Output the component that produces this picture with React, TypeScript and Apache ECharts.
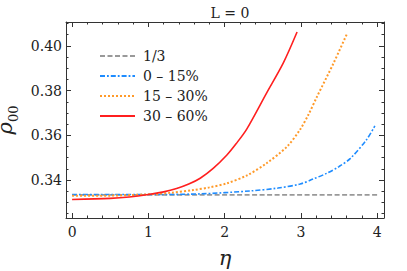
import React, { useEffect, useRef } from "react";
import * as echarts from "echarts";

const seriesNames = ["1/3", "0 – 15%", "15 – 30%", "30 – 60%"];

const etaGray = [0, 4];
const rhoGray = [1 / 3, 1 / 3];

const etaBlue = [0, 0.5, 1.0, 1.68, 2.33, 2.7, 2.99, 3.15, 3.34, 3.5, 3.65, 3.86, 3.97];
const rhoBlue = [0.3335, 0.3335, 0.3335, 0.3338, 0.3351, 0.3364, 0.3382, 0.3403, 0.343, 0.346, 0.3497, 0.358, 0.3642];

const etaOrange = [0, 0.5, 1.0, 1.3, 1.59, 1.8, 2.03, 2.3, 2.55, 2.82, 2.99, 3.1, 3.21, 3.43, 3.6];
const rhoOrange = [0.3329, 0.333, 0.3336, 0.3343, 0.3355, 0.3367, 0.3385, 0.3422, 0.3475, 0.355, 0.3626, 0.3693, 0.3772, 0.3924, 0.4051];

const etaRed = [0, 0.5, 0.75, 1.0, 1.2, 1.37, 1.53, 1.68, 1.85, 2.03, 2.15, 2.29, 2.55, 2.77, 2.95];
const rhoRed = [0.3313, 0.3318, 0.3324, 0.3335, 0.3347, 0.3362, 0.3382, 0.3408, 0.3452, 0.3512, 0.3562, 0.3628, 0.3789, 0.3924, 0.4062];

const xMajor = [0, 1, 2, 3, 4];
const xMinor = [0.2, 0.4, 0.6, 0.8, 1.2, 1.4, 1.6, 1.8, 2.2, 2.4, 2.6, 2.8, 3.2, 3.4, 3.6, 3.8];
const yMajor = [0.34, 0.36, 0.38, 0.4];
const yMinor = [0.325, 0.33, 0.335, 0.345, 0.35, 0.355, 0.365, 0.37, 0.375, 0.385, 0.39, 0.395, 0.405, 0.41];

const X_MIN = -0.08;
const X_MAX = 4.09;
const Y_MIN = 0.323;
const Y_MAX = 0.4107;

const FONT = "DejaVu Serif";
const FRAME = "#333";
const TEXT = "#222";

function pairs(xs: number[], ys: number[]) {
  return xs.map((x, i) => [x, ys[i]]);
}

function tickAxis(
  kind: "x" | "y",
  position: string,
  values: number[],
  len: number,
  showLine: boolean
) {
  const min = kind === "x" ? X_MIN : Y_MIN;
  const max = kind === "x" ? X_MAX : Y_MAX;
  return {
    type: "value",
    position,
    min,
    max,
    axisLine: { show: showLine, onZero: false, lineStyle: { color: FRAME, width: 1 } },
    axisTick: {
      show: true,
      inside: true,
      length: len,
      customValues: values,
      lineStyle: { color: FRAME, width: 1 },
    },
    axisLabel: { show: false },
    splitLine: { show: false },
  };
}

export default function App() {
  const ref = useRef<HTMLDivElement>(null);
  useEffect(() => {
    if (!ref.current) return;
    const chart = echarts.init(ref.current, undefined, { renderer: "svg" });
    const option: any = {
      animation: false,
      backgroundColor: "#fff",
      textStyle: { fontFamily: FONT },
      title: {
        text: "L = 0",
        left: 225,
        top: 1,
        textAlign: "center",
        textStyle: { fontFamily: FONT, fontSize: 14, fontWeight: "normal", color: TEXT },
      },
      grid: { left: 66, right: 23, top: 22, bottom: 53, containLabel: false, outerBoundsMode: "none" },
      legend: {
        orient: "vertical",
        left: 94,
        top: 44,
        itemWidth: 35,
        itemHeight: 14,
        itemGap: 6,
        data: seriesNames,
        itemStyle: { opacity: 0 },
        textStyle: { fontFamily: FONT, fontSize: 14, color: TEXT, padding: [0, 0, 0, 3] },
      },
      xAxis: [
        {
          type: "value",
          position: "bottom",
          min: X_MIN,
          max: X_MAX,
          name: "η",
          nameLocation: "middle",
          nameGap: 29,
          nameTextStyle: { fontFamily: FONT, fontSize: 21, fontStyle: "italic", color: TEXT },
          axisLine: { show: true, onZero: false, lineStyle: { color: FRAME, width: 1 } },
          axisTick: {
            show: true,
            inside: true,
            length: 5,
            customValues: xMajor,
            lineStyle: { color: FRAME },
          },
          axisLabel: {
            show: true,
            customValues: xMajor,
            margin: 7,
            fontFamily: FONT,
            fontSize: 14,
            color: TEXT,
            formatter: (v: number) => String(Math.round(v)),
          },
          splitLine: { show: false },
        },
        tickAxis("x", "bottom", xMinor, 2.5, false),
        tickAxis("x", "top", xMajor, 5, true),
        tickAxis("x", "top", xMinor, 2.5, false),
      ],
      yAxis: [
        {
          type: "value",
          position: "left",
          min: Y_MIN,
          max: Y_MAX,
          name: "{a|ρ}{b|00}",
          nameLocation: "middle",
          nameRotate: 90,
          nameGap: 34,
          nameTextStyle: {
            rich: {
              a: { fontFamily: FONT, fontSize: 21, fontStyle: "italic", color: TEXT, verticalAlign: "bottom", lineHeight: 24 },
              b: { fontFamily: FONT, fontSize: 13, color: TEXT, verticalAlign: "bottom", lineHeight: 24, padding: [0, 0, -4, 0] },
            },
          },
          axisLine: { show: true, onZero: false, lineStyle: { color: FRAME, width: 1 } },
          axisTick: {
            show: true,
            inside: true,
            length: 5,
            customValues: yMajor,
            lineStyle: { color: FRAME },
          },
          axisLabel: {
            show: true,
            customValues: yMajor,
            margin: 4,
            fontFamily: FONT,
            fontSize: 14,
            color: TEXT,
            formatter: (v: number) => v.toFixed(2),
          },
          splitLine: { show: false },
        },
        tickAxis("y", "left", yMinor, 2.5, false),
        tickAxis("y", "right", yMajor, 5, true),
        tickAxis("y", "right", yMinor, 2.5, false),
      ],
      series: [
        {
          name: seriesNames[0],
          type: "line",
          data: pairs(etaGray, rhoGray),
          symbol: "none",
          lineStyle: { color: "#999999", width: 1.6, type: [5, 2.5] },
          itemStyle: { color: "#999999" },
        },
        {
          name: seriesNames[1],
          type: "line",
          data: pairs(etaBlue, rhoBlue),
          smooth: 0.3,
          symbol: "none",
          lineStyle: { color: "#1e8cff", width: 1.6, type: [5, 2, 1.8, 2] },
          itemStyle: { color: "#1e8cff" },
        },
        {
          name: seriesNames[2],
          type: "line",
          data: pairs(etaOrange, rhoOrange),
          smooth: 0.3,
          symbol: "none",
          lineStyle: { color: "#ff9a2a", width: 2, type: [2, 2] },
          itemStyle: { color: "#ff9a2a" },
        },
        {
          name: seriesNames[3],
          type: "line",
          data: pairs(etaRed, rhoRed),
          smooth: 0.3,
          symbol: "none",
          lineStyle: { color: "#ff1f1f", width: 1.6, type: "solid" },
          itemStyle: { color: "#ff1f1f" },
        },
      ],
    };
    chart.setOption(option);
    return () => chart.dispose();
  }, []);
  return (
    <div
      ref={ref}
      style={{ position: "fixed", left: 0, top: 0, width: 407, height: 271 }}
    />
  );
}
